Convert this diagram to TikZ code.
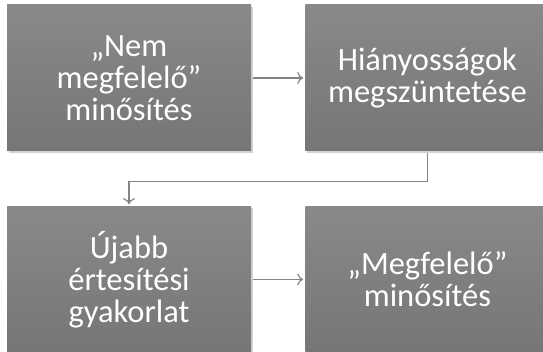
\documentclass[tikz,border=0pt]{standalone}
\usepackage{fontspec}
\setmainfont{Carlito}
\usetikzlibrary{positioning,shadows,arrows.meta}

\definecolor{boxgray}{HTML}{767676}
\definecolor{boxtop}{HTML}{898989}
\definecolor{linegray}{HTML}{858585}

\begin{document}
\begin{tikzpicture}[x=1pt,y=1pt,
	lap/.style={rectangle, minimum width=244pt, minimum height=146pt, inner sep=0pt,
		top color=boxtop, bottom color=boxgray, draw=none,
		drop shadow={shadow xshift=1.5pt, shadow yshift=-2pt, opacity=0.35},
		text=white, align=center, font=\fontsize{32.5}{32}\selectfont},
	nyil/.style={draw=linegray, line width=1.2pt, -{To[length=6pt,width=12pt]},
		shorten <=2pt, shorten >=2pt}]
\useasboundingbox (0,0) rectangle (543,352);

%% felso sor
\node[lap] (nem) at (129,274) {„Nem\\megfelelő”\\minősítés};
\node[lap, right=54pt of nem] (hiany) {Hiányosságok\\megszüntetése};

%% also sor
\node[lap, below=55pt of nem] (ujabb) {Újabb\\értesítési\\gyakorlat};
\node[lap, right=54pt of ujabb] (megf) {„Megfelelő”\\minősítés};

% nyilak
\draw[nyil] (nem) -- (hiany);
\draw[nyil] (hiany.south) -- ++(0,-30) -| (ujabb.north);
\draw[nyil] (ujabb) -- (megf);

\end{tikzpicture}
\end{document}
